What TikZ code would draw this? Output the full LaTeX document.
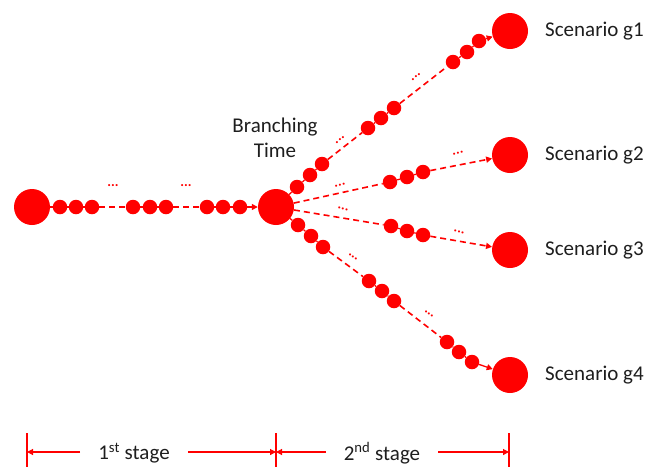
\documentclass[tikz,border=0pt]{standalone}
\usepackage{fontspec}
\setmainfont{Carlito}
\usetikzlibrary{arrows.meta}
\definecolor{rd}{RGB}{255,0,0}
\definecolor{txt}{RGB}{30,30,30}
\begin{document}
\begin{tikzpicture}[x=1pt,y=-1pt,
  big/.style={circle,fill=rd,inner sep=0pt,minimum size=36pt},
  sm/.style={circle,fill=rd,inner sep=0pt,minimum size=14.5pt},
  link/.style={draw=rd,line width=1.3pt},
  dsh/.style={draw=rd,line width=1.6pt,dash pattern=on 6pt off 4pt},
  tip/.style={-{Triangle[length=6pt,width=6pt]}},
  dots/.style={text=rd,font=\fontsize{14}{14}\selectfont\bfseries,inner sep=0pt},
  lbl/.style={text=txt,font=\fontsize{21}{25}\selectfont,inner sep=0pt},
  stg/.style={text=txt,font=\fontsize{21}{25}\selectfont,inner ysep=0pt,inner xsep=18pt},
  dim/.style={draw=rd,line width=1.2pt},
]
\useasboundingbox (0,0) rectangle (656,467);

% main line
\node[big] (L) at (32,207) {};
\node[sm] (m1) at (60,207) {};
\node[sm] (m2) at (76,207) {};
\node[sm] (m3) at (92,207) {};
\node[sm] (m4) at (133,207) {};
\node[sm] (m5) at (150,207) {};
\node[sm] (m6) at (166,207) {};
\node[sm] (m7) at (207,207) {};
\node[sm] (m8) at (223,207) {};
\node[sm] (m9) at (240,207) {};
\node[big] (B) at (276,207) {};
\draw[link] (L) -- (m1);
\draw[link] (m1) -- (m2);
\draw[link] (m2) -- (m3);
\draw[dsh] (m3) -- (m4);
\draw[link] (m4) -- (m5);
\draw[link] (m5) -- (m6);
\draw[dsh] (m6) -- (m7);
\draw[link] (m7) -- (m8);
\draw[link] (m8) -- (m9);
\draw[link,tip] (m9) -- (B);
\node[dots] (d1) at (113,186) {...};
\node[dots] (d2) at (186,186) {...};

% scenario end nodes
\node[big] (G1) at (510,31) {};
\node[big] (G2) at (510,155) {};
\node[big] (G3) at (510,250) {};
\node[big] (G4) at (510,375) {};
\node[lbl,anchor=west] (S1) at (545,31) {Scenario g1};
\node[lbl,anchor=west] (S2) at (545,155) {Scenario g2};
\node[lbl,anchor=west] (S3) at (545,250) {Scenario g3};
\node[lbl,anchor=west] (S4) at (545,375) {Scenario g4};
\node[lbl,align=center] (BT) at (275,138) {Branching\\Time};

% branch g1
\node[sm] (a1) at (297,187) {};
\node[sm] (a2) at (310,175) {};
\node[sm] (a3) at (322,164) {};
\node[sm] (a4) at (368,128) {};
\node[sm] (a5) at (381,118) {};
\node[sm] (a6) at (394,108) {};
\node[sm] (a7) at (453,62) {};
\node[sm] (a8) at (467,52) {};
\node[sm] (a9) at (479,41) {};
\draw[link] (B) -- (a1);
\draw[link] (a1) -- (a2);
\draw[link] (a2) -- (a3);
\draw[dsh] (a3) -- (a4);
\draw[link] (a4) -- (a5);
\draw[link] (a5) -- (a6);
\draw[dsh] (a6) -- (a7);
\draw[link] (a7) -- (a8);
\draw[link] (a8) -- (a9);
\draw[link,tip] (a9) -- (G1);
\node[dots,rotate=38] (da1) at (340,140) {...};
\node[dots,rotate=38] (da2) at (416,77) {...};

% branch g2
\node[sm] (b1) at (390,182) {};
\node[sm] (b2) at (407,177) {};
\node[sm] (b3) at (423,172) {};
\draw[dsh] (B) -- (b1);
\draw[link] (b1) -- (b2);
\draw[link] (b2) -- (b3);
\draw[dsh,tip] (b3) -- (G2);
\node[dots,rotate=12] (db1) at (340,185) {...};
\node[dots,rotate=12] (db2) at (458,153) {...};

% branch g3
\node[sm] (c1) at (391,226) {};
\node[sm] (c2) at (407,231) {};
\node[sm] (c3) at (423,235) {};
\draw[dsh] (B) -- (c1);
\draw[link] (c1) -- (c2);
\draw[link] (c2) -- (c3);
\draw[dsh,tip] (c3) -- (G3);
\node[dots,rotate=-10] (dc1) at (343,209) {...};
\node[dots,rotate=-10] (dc2) at (459,232) {...};

% branch g4
\node[sm] (e1) at (298,225) {};
\node[sm] (e2) at (311,236) {};
\node[sm] (e3) at (323,247) {};
\node[sm] (e4) at (369,281) {};
\node[sm] (e5) at (382,291) {};
\node[sm] (e6) at (394,301) {};
\node[sm] (e7) at (447,342) {};
\node[sm] (e8) at (459,352) {};
\node[sm] (e9) at (472,362) {};
\draw[link] (B) -- (e1);
\draw[link] (e1) -- (e2);
\draw[link] (e2) -- (e3);
\draw[dsh] (e3) -- (e4);
\draw[link] (e4) -- (e5);
\draw[link] (e5) -- (e6);
\draw[dsh] (e6) -- (e7);
\draw[link] (e7) -- (e8);
\draw[link] (e8) -- (e9);
\draw[link,tip] (e9) -- (G4);
\node[dots,rotate=-38] (de1) at (353,257) {...};
\node[dots,rotate=-38] (de2) at (429,314) {...};

% stage dimension line
\coordinate (t1) at (27,452);
\coordinate (t2) at (276,452);
\coordinate (t3) at (509,452);
\coordinate (t1a) at (27,433);
\coordinate (t1b) at (27,467);
\coordinate (t2a) at (276,433);
\coordinate (t2b) at (276,467);
\coordinate (t3a) at (509,433);
\coordinate (t3b) at (509,467);
\draw[dim] (t1a) -- (t1b);
\draw[dim] (t2a) -- (t2b);
\draw[dim] (t3a) -- (t3b);
\node[stg] (st1) at (134,453) {1\textsuperscript{st} stage};
\node[stg] (st2) at (382,453) {2\textsuperscript{nd} stage};
\draw[dim,tip] (st1.west |- t1) -- (t1);
\draw[dim,tip] (st1.east |- t1) -- (t2);
\draw[dim,tip] (st2.west |- t2) -- (t2);
\draw[dim,tip] (st2.east |- t3) -- (t3);
\end{tikzpicture}
\end{document}
